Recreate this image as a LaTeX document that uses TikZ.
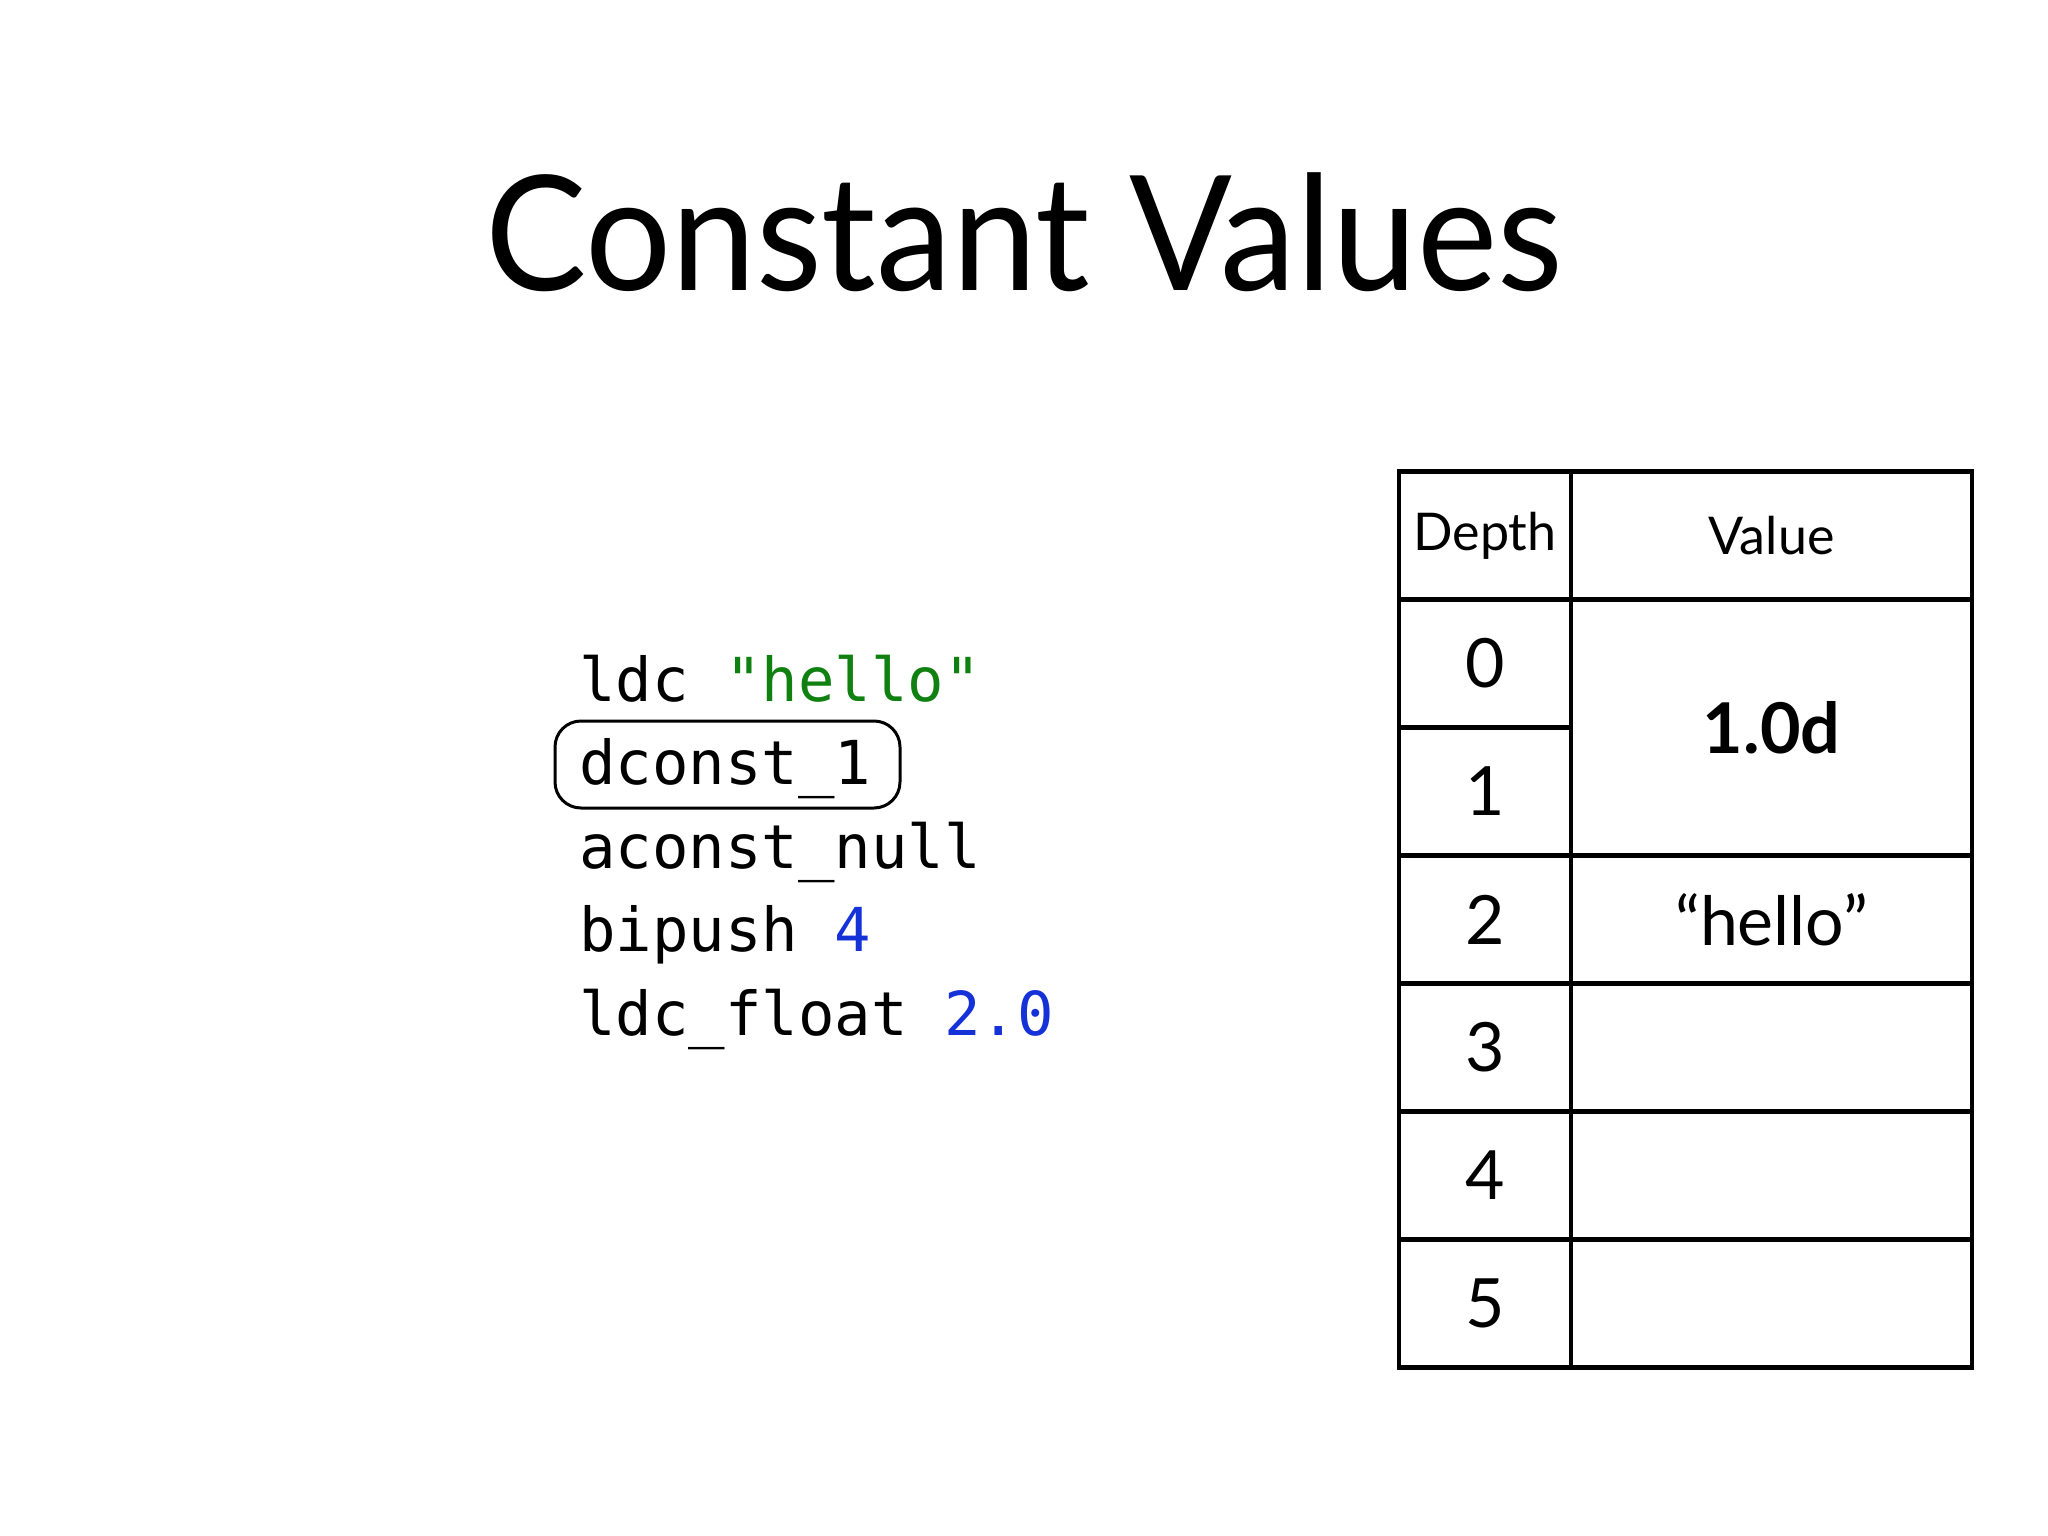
\documentclass[tikz,border=0pt]{standalone}
\usepackage{fontspec}
\setmainfont{Lato}
\newfontfamily\codefont{DejaVu Sans Mono}
\definecolor{codegreen}{RGB}{16,128,16}
\definecolor{codeblue}{RGB}{20,50,215}
\begin{document}
\begin{tikzpicture}[x=1pt,y=-1pt,
  codeline/.style={anchor=base west, inner sep=0pt, font=\codefont\fontsize{60.6}{70}\selectfont},
  cell/.style={draw, line width=4.5pt, minimum width=#1, minimum height=128pt, inner sep=0pt, font=\fontsize{68}{80}\selectfont},
  headcell/.style={cell=#1, font=\fontsize{52}{62}\selectfont},
  hlbox/.style={draw, line width=3pt, rounded corners=26pt, minimum width=345pt, minimum height=87pt, inner sep=0pt}
]
\fill[white] (0,0) rectangle (2048,1536);
\useasboundingbox (0,0) rectangle (2048,1536);

% title
\node[anchor=base, inner sep=0pt, xscale=0.95, transform shape, font=\fontsize{160}{190}\selectfont] (title) at (1024,290) {Constant Values};

% code
\node[codeline] (c1) at (579,701) {ldc \textcolor{codegreen}{"hello"}};
\node[codeline] (c2) at (579,784.6) {dconst\_1};
\node[codeline] (c3) at (579,868.2) {aconst\_null};
\node[codeline] (c4) at (579,951.8) {bipush \textcolor{codeblue}{4}};
\node[codeline] (c5) at (579,1035.4) {ldc\_float \textcolor{codeblue}{2.0}};
\node[hlbox] (hl) at (727.5,764.5) {};

% table
\node[headcell=172pt] (hd) at (1485,535.5) {Depth};
\node[headcell=401pt] (hv) at (1771.5,535.5) {Value};
\node[cell=172pt] (d0) at (1485,663.5) {0};
\node[cell=172pt] (d1) at (1485,791.5) {1};
\node[cell=172pt] (d2) at (1485,919.5) {2};
\node[cell=172pt] (d3) at (1485,1047.5) {3};
\node[cell=172pt] (d4) at (1485,1175.5) {4};
\node[cell=172pt] (d5) at (1485,1303.5) {5};
\node[cell=401pt, minimum height=256pt, font=\bfseries\fontsize{70}{80}\selectfont] (v01) at (1771.5,727.5) {1.0d};
\node[cell=401pt] (v2) at (1771.5,919.5) {“hello”};
\node[cell=401pt] (v3) at (1771.5,1047.5) {};
\node[cell=401pt] (v4) at (1771.5,1175.5) {};
\node[cell=401pt] (v5) at (1771.5,1303.5) {};
\end{tikzpicture}
\end{document}
